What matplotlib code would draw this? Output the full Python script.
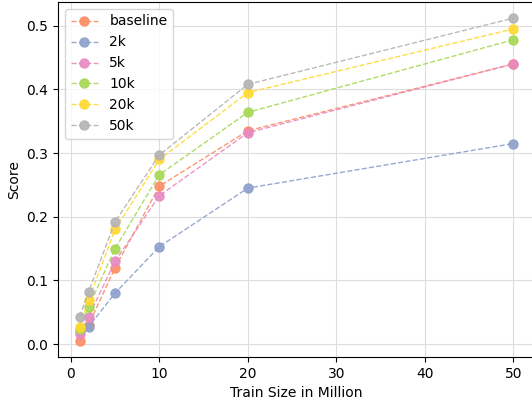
import matplotlib
matplotlib.use("Agg")
import matplotlib.pyplot as plt

train_sizes = [1, 2, 5, 10, 20, 50]
series_names = ["baseline", "2k", "5k", "10k", "20k", "50k"]
baseline = [0.005, 0.030, 0.120, 0.248, 0.335, 0.440]
s2k = [0.020, 0.027, 0.080, 0.153, 0.245, 0.315]
s5k = [0.015, 0.043, 0.130, 0.233, 0.332, 0.440]
s10k = [0.024, 0.058, 0.150, 0.266, 0.364, 0.478]
s20k = [0.027, 0.069, 0.180, 0.290, 0.395, 0.495]
s50k = [0.043, 0.082, 0.192, 0.297, 0.408, 0.512]
all_series = [baseline, s2k, s5k, s10k, s20k, s50k]

colors = ["#fc8d62", "#8da0cb", "#e78ac3", "#a6d854", "#ffd92f", "#b3b3b3"]

fig = plt.figure(figsize=(5.32, 4.01), dpi=100)
ax = fig.add_axes([58/532, 1-357/401, (535-58)/532, (357-2)/401])
for name, vals, c in zip(series_names, all_series, colors):
    ax.plot(train_sizes, vals, linestyle="--", marker="o", color=c,
            linewidth=1, markersize=6.5, label=name, alpha=0.9)
ax.grid(True, color="#dddddd", linewidth=0.8)
ax.set_xlabel("Train Size in Million")
ax.set_ylabel("Score")
ax.legend(loc="upper left")
fig.savefig("out.png", dpi=100)
